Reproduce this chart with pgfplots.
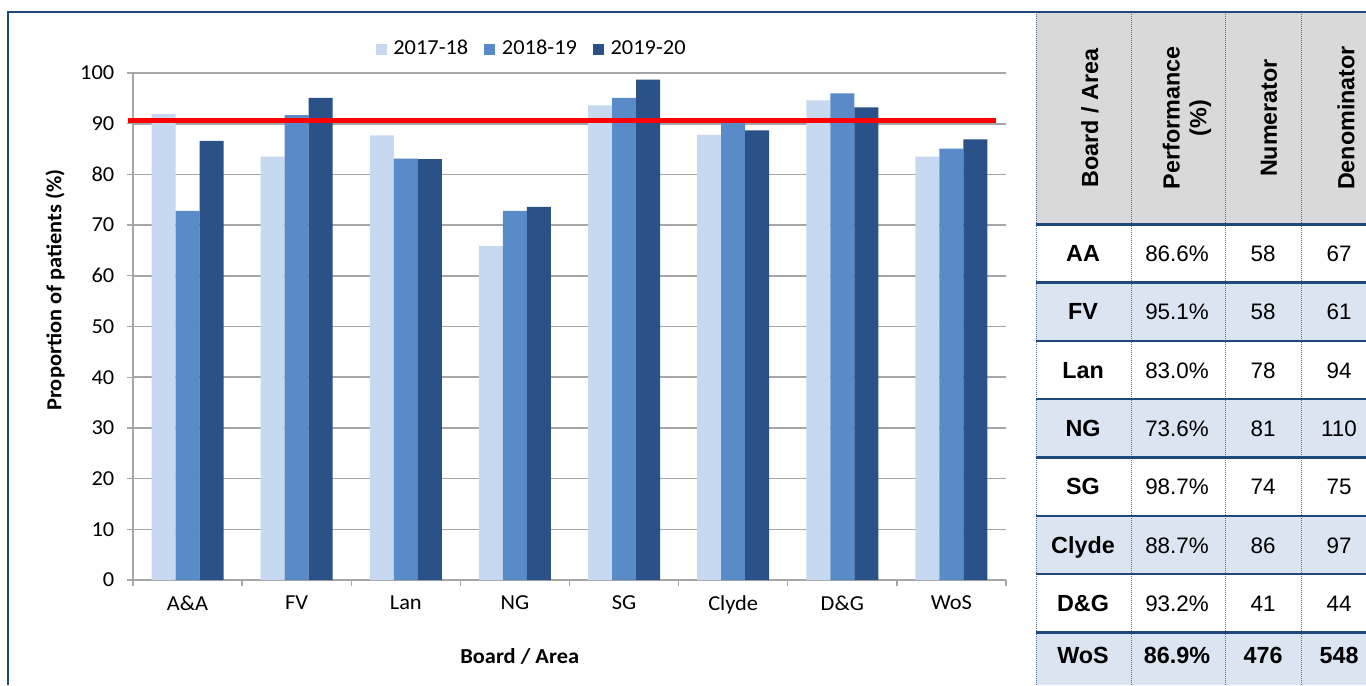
\documentclass[border=0pt]{standalone}
\usepackage{pgfplots}
\pgfplotsset{compat=1.18}
\usepackage{fontspec}
\setmainfont{Liberation Sans}
\newfontfamily\chartfont{Carlito}[FakeStretch=1.05]
\newfontfamily\tabfont{Liberation Sans}
\definecolor{c1}{RGB}{198,217,240}
\definecolor{c2}{RGB}{89,139,201}
\definecolor{c3}{RGB}{42,82,137}
\definecolor{bord}{RGB}{31,73,125}
\definecolor{hdr}{RGB}{217,217,217}
\definecolor{rowb}{RGB}{219,229,241}
\definecolor{dotc}{RGB}{79,110,160}
\definecolor{gridc}{RGB}{166,166,166}
\pgfplotsset{sqlegend/.style={legend image code/.code={\fill[##1,draw=none] (0pt,-5.25pt) rectangle (8.25pt,3pt);}}}
\newcommand\cf{\chartfont\fontsize{16}{19}\selectfont}
\newcommand\tf{\tabfont\fontsize{17.5}{20}\selectfont}
\newcommand\tfr{\tabfont\fontsize{16.8}{20}\selectfont}
\begin{document}
\begin{tikzpicture}
\begin{scope}[x=0.75pt,y=-0.75pt]
\path[use as bounding box, fill=white] (0,0) rectangle (1366,685);
% table fills
\fill[hdr] (1036,12) rectangle (1366,224.3);
\fill[rowb] (1036,282.6) rectangle (1366,340.9);
\fill[rowb] (1036,399.2) rectangle (1366,457.5);
\fill[rowb] (1036,515.8) rectangle (1366,574.1);
\fill[rowb] (1036,632.4) rectangle (1366,685);
% dotted verticals
\foreach \xx in {1036,1131,1225,1301}
  \draw[dotc, line width=0.75pt, dash pattern=on 0.75pt off 0.75pt] (\xx,12) -- (\xx,685);
% horizontal lines
\foreach \yy in {224.3,282.6,340.9,399.2,457.5,515.8,574.1,632.4}
  \draw[bord, line width=1.8pt] (1036,\yy) -- (1366,\yy);
% outer border
\draw[bord, line width=1.6pt] (8,685) -- (8,12) -- (1366,12);
% header
\node[rotate=90, font=\tf\bfseries] at (1090,118) {Board / Area};
\node[rotate=90, font=\tf\bfseries, align=center, inner sep=0pt] at (1187,118) {Performance\\(\%)};
\node[rotate=90, font=\tf\bfseries] at (1269,118) {Numerator};
\node[rotate=90, font=\tf\bfseries] at (1346,118) {Denominator};
% rows
\foreach \yc/\a/\b/\c/\d in {261.5/AA/86.6\%/58/67, 319.8/FV/95.1\%/58/61, 378.1/Lan/83.0\%/78/94, 436.4/NG/73.6\%/81/110, 494.7/SG/98.7\%/74/75, 553.0/Clyde/88.7\%/86/97, 611.3/D\&G/93.2\%/41/44}{
  \node[anchor=base, font=\tf\bfseries] at (1083,\yc) {\a};
  \node[anchor=base, font=\tfr] at (1177,\yc) {\b};
  \node[anchor=base, font=\tfr] at (1263,\yc) {\c};
  \node[anchor=base, font=\tfr] at (1339,\yc) {\d};
}
\node[anchor=base, font=\tf\bfseries] at (1083,663) {WoS};
\node[anchor=base, font=\tf\bfseries] at (1177,663) {86.9\%};
\node[anchor=base, font=\tf\bfseries] at (1263,663) {476};
\node[anchor=base, font=\tf\bfseries] at (1339,663) {548};
\end{scope}

\begin{axis}[
  at={(99.75pt,-435pt)}, anchor=south west,
  scale only axis, width=654.75pt, height=380.25pt,
  xmin=-0.5, xmax=7.5, ymin=0, ymax=100,
  clip=false,
  axis x line*=bottom, axis y line*=left,
  axis line style={-, draw=gridc, line width=1.2pt},
  ymajorgrids, grid style={draw=gridc, line width=1.2pt},
  ytick={0,10,...,100},
  xtick={-0.5,0.5,...,7.5},
  xticklabels={A\&A,FV,Lan,NG,SG,Clyde,D\&G,WoS},
  x tick label as interval,
  tick align=outside,
  major tick length=4.5pt,
  tick style={draw=gridc, line width=1pt},
  /pgf/number format/assume math mode=true,
  yticklabel style={font=\cf, xshift=-6pt},
  xticklabel style={font=\cf, yshift=-4pt},
  xlabel={Board / Area},
  xlabel style={font=\cf\bfseries, at={(axis description cs:0.443,-0.150)}, anchor=center},
  ylabel={Proportion of patients (\%)},
  ylabel style={font=\cf\bfseries, at={(axis description cs:-0.0893,0.572)}, anchor=center},
  legend style={draw=none, fill=none, at={(axis description cs:0.457,1.049)}, anchor=center,
    legend columns=3, font=\cf,
    /tikz/every odd column/.append style={column sep=3pt},
    /tikz/every even column/.append style={column sep=10pt}},
]
\addplot[ybar, bar width=18pt, bar shift=-18pt, fill=c1, draw=none, sqlegend] coordinates {
 (0,91.9) (1,83.5) (2,87.7) (3,65.9) (4,93.6) (5,87.8) (6,94.6) (7,83.5)};
\addplot[ybar, bar width=18pt, bar shift=0pt, fill=c2, draw=none, sqlegend] coordinates {
 (0,72.8) (1,91.7) (2,83.1) (3,72.8) (4,95.1) (5,90.2) (6,96.0) (7,85.1)};
\addplot[ybar, bar width=18pt, bar shift=18pt, fill=c3, draw=none, sqlegend] coordinates {
 (0,86.6) (1,95.1) (2,83.0) (3,73.6) (4,98.7) (5,88.7) (6,93.2) (7,86.9)};
\legend{2017-18,2018-19,2019-20}
\addplot[red, line width=3.75pt, forget plot, mark=none] coordinates {(-0.546,90.6) (7.41,90.6)};
\end{axis}
\end{tikzpicture}
\end{document}
